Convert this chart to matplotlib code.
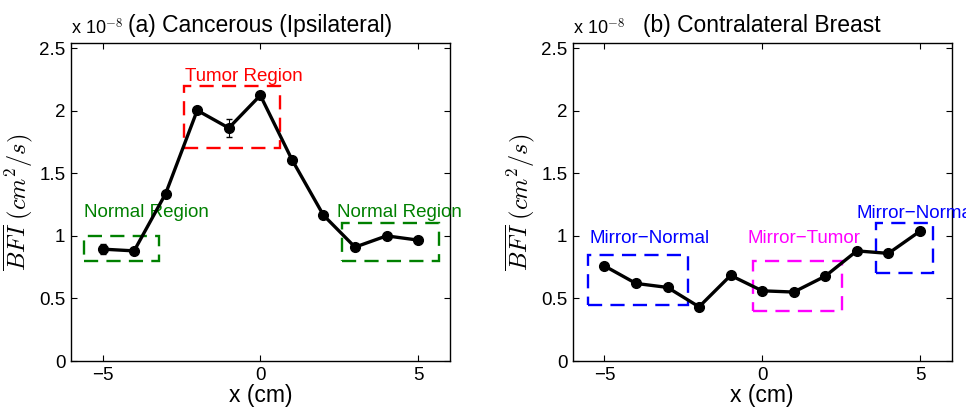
import matplotlib
matplotlib.use("Agg")
import matplotlib.pyplot as plt
from matplotlib.patches import Rectangle

plt.rcParams['font.family'] = ['Liberation Sans', 'DejaVu Sans']
plt.rcParams['mathtext.fontset'] = 'cm'

x_cm = [-5, -4, -3, -2, -1, 0, 1, 2, 3, 4, 5]

# BFI values in units of 1e-8 cm^2/s
bfi_ipsi = [0.894, 0.880, 1.338, 2.003, 1.862, 2.123, 1.610, 1.165, 0.910, 1.000, 0.966]
err_ipsi = [0.04, 0.01, 0.01, 0.01, 0.07, 0.015, 0.01, 0.01, 0.01, 0.01, 0.01]

bfi_contra = [0.760, 0.620, 0.588, 0.433, 0.684, 0.561, 0.551, 0.678, 0.880, 0.860, 1.037]
err_contra = [0.01, 0.01, 0.01, 0.01, 0.03, 0.01, 0.01, 0.01, 0.01, 0.01, 0.01]

# region boxes: (x0, x1, y0, y1, colour)
boxes_ipsi = [(-5.6, -3.2, 0.8, 1.0, 'green'),
              (-2.42, 0.62, 1.7, 2.2, 'red'),
              (2.6, 5.65, 0.8, 1.1, 'green')]
labels_ipsi = [(-5.6, 1.15, 'Normal Region', 'green'),
               (-2.4, 2.24, 'Tumor Region', 'red'),
               (2.44, 1.15, 'Normal Region', 'green')]

boxes_contra = [(-5.52, -2.36, 0.45, 0.85, 'blue'),
                (-0.29, 2.53, 0.40, 0.80, 'magenta'),
                (3.6, 5.42, 0.70, 1.10, 'blue')]
labels_contra = [(-5.48, 0.94, 'Mirror\u2212Normal', 'blue'),
                 (-0.47, 0.94, 'Mirror\u2212Tumor', 'magenta'),
                 (3.0, 1.14, 'Mirror\u2212Normal', 'blue')]

fig = plt.figure(figsize=(9.66, 4.07), dpi=100)
ax1 = fig.add_axes([0.0735, 0.113, 0.392, 0.781])
ax2 = fig.add_axes([0.593, 0.113, 0.392, 0.781])

panels = [(ax1, bfi_ipsi, err_ipsi, boxes_ipsi, labels_ipsi, '(a) Cancerous (Ipsilateral)'),
          (ax2, bfi_contra, err_contra, boxes_contra, labels_contra, '(b) Contralateral Breast')]

for ax, y, err, boxes, labels, title in panels:
    ax.errorbar(x_cm, y, yerr=err, color='black', lw=2.4, marker='o', ms=7,
                mfc='black', mec='black', ecolor='black', elinewidth=0.8, capsize=2.5, zorder=3)
    for x0, x1, y0, y1, c in boxes:
        ax.add_patch(Rectangle((x0, y0), x1 - x0, y1 - y0, fill=False, edgecolor=c,
                               lw=1.7, linestyle=(0, (6, 3.5)), zorder=2))
    for tx, ty, s, c in labels:
        ax.text(tx, ty, s, color=c, fontsize=13.5, ha='left', va='baseline', clip_on=False)
    ax.set_xlim(-6, 6)
    ax.set_ylim(0, 2.54)
    ax.set_xticks([-5, 0, 5])
    ax.set_xticklabels(['\u22125', '0', '5'])
    ax.set_yticks([0, 0.5, 1, 1.5, 2, 2.5])
    ax.set_yticklabels(['0', '0.5', '1', '1.5', '2', '2.5'])
    ax.tick_params(direction='in', top=True, right=True, length=4, width=0.8,
                   labelsize=13.5, pad=4)
    for sp in ax.spines.values():
        sp.set_linewidth(1.0)
    ax.set_xlabel('x (cm)', fontsize=16.5, labelpad=0)
    ax.set_ylabel(r'$\overline{BFI}\ (cm^2/s)$', fontsize=17.5, labelpad=3)
    ax.set_title(title, fontsize=16.5, pad=8)
    ax.text(0, 1.015, r'x 10$^{-8}$', transform=ax.transAxes, fontsize=13,
            ha='left', va='bottom')

fig.savefig('out.png', dpi=100)
